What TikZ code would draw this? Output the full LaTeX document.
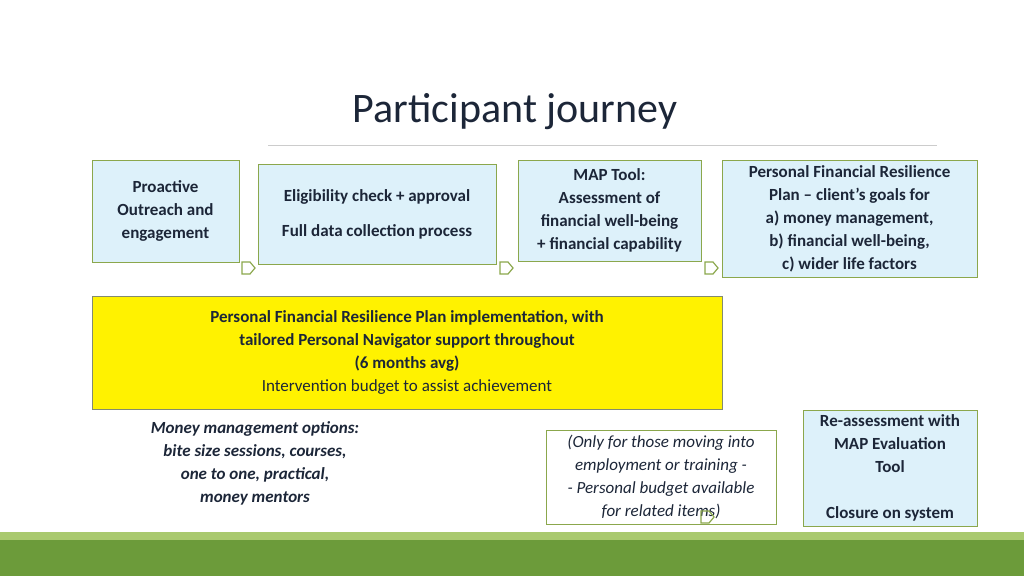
\documentclass[tikz,border=0pt]{standalone}
\usepackage{fontspec}
\setmainfont{Carlito}
\usetikzlibrary{positioning}
\definecolor{boxfill}{HTML}{DDF1FA}
\definecolor{boxline}{HTML}{8BA74C}
\definecolor{barlight}{HTML}{A9C96E}
\definecolor{bardark}{HTML}{6C9B3A}
\definecolor{inktext}{HTML}{1C2638}
\tikzset{infobox/.style={rectangle, draw=boxline, line width=1pt, fill=boxfill, align=center, text=inktext, font=\fontsize{17}{23}\selectfont\bfseries, inner sep=0pt}}
\tikzset{marker/.style={draw=boxline, line width=1.2pt}}
\newcommand{\pentmark}[1]{\draw[marker] (#1) ++(0,-6) -- ++(8,0) -- ++(5,6) -- ++(-5,6) -- ++(-8,0) -- cycle;}

\begin{document}
\begin{tikzpicture}[x=1pt, y=-1pt]
\useasboundingbox (0,0) rectangle (1024,576);

% title and rule
\node[font=\fontsize{42}{46}\selectfont, text=inktext] (title) at (515,112) {Participant journey};
\draw[gray!40, line width=0.8pt] (268,145) -- (937,145);

% top row of boxes
\node[infobox, minimum width=147pt, minimum height=102pt] (outreach) at (165.5,211) {Proactive\\Outreach and\\engagement};
\node[infobox, minimum width=238pt, minimum height=100pt, font=\fontsize{17}{35}\selectfont\bfseries] (elig) at (377,214) {Eligibility check + approval\\Full data collection process};
\node[infobox, minimum width=183pt, minimum height=101pt] (map) at (609.5,210.5) {MAP Tool:\\Assessment of\\financial well-being\\+ financial capability};
\node[infobox, minimum width=255pt, minimum height=117pt] (plan) at (849.5,218.5) {Personal Financial Resilience\\Plan -- client’s goals for\\a) money management,\\b) financial well-being,\\c) wider life factors};

% implementation box
\node[infobox, fill=yellow, draw=gray!70!boxline, minimum width=630pt, minimum height=113pt] (impl) at (407,352.5) {Personal Financial Resilience Plan implementation, with\\tailored Personal Navigator support throughout\\(6 months avg)\\\mdseries Intervention budget to assist achievement};

% lower row
\node[align=center, text=inktext, font=\fontsize{17}{23}\selectfont\bfseries\itshape] (money) at (255,463) {Money management options:\\bite size sessions, courses,\\one to one, practical,\\money mentors};
\node[infobox, fill=white, minimum width=230pt, minimum height=94pt, font=\fontsize{17}{23}\selectfont\itshape] (only) at (661,477) {(Only for those moving into\\employment or training -\\- Personal budget available\\for related items)};
\node[infobox, minimum width=174pt, minimum height=116pt] (reassess) at (890,468) {Re-assessment with\\MAP Evaluation\\Tool\\\\Closure on system};

% markers
\pentmark{242,268}
\pentmark{500,268}
\pentmark{705,268}
\pentmark{701,517}

% bottom bars
\fill[barlight] (0,532) rectangle (1024,540);
\fill[bardark] (0,540) rectangle (1024,576);
\end{tikzpicture}
\end{document}
